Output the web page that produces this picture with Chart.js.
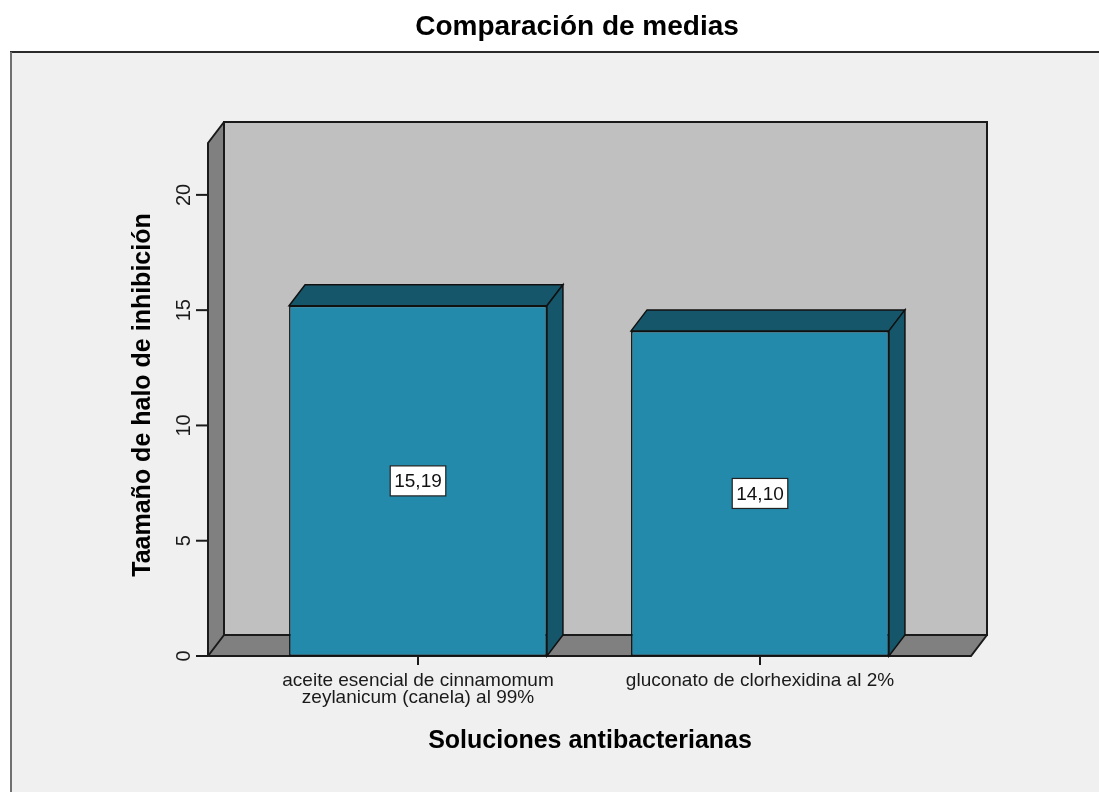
<!DOCTYPE html>
<html>
<head>
<meta charset="utf-8">
<title>Comparación de medias</title>
<script src="https://cdn.jsdelivr.net/npm/chart.js@4.4.1/dist/chart.umd.min.js"></script>
<style>
  html, body { margin: 0; padding: 0; background: #ffffff; }
  #idCanvas { width: 1099px; height: 792px; }
</style>
</head>
<body>
<div id="idCanvas"><canvas id="lienzo" width="1099" height="792"></canvas></div>
<script>
// Datos del gráfico
const categorias = [
  ['aceite esencial de cinnamomum', 'zeylanicum (canela) al 99%'],
  ['gluconato de clorhexidina al 2%']
];
const medias = [15.19, 14.10];
const ticksY = [0, 5, 10, 15, 20];
const maxY = 22.25;

const tituloGrafico = 'Comparación de medias';
const tituloEjeX = 'Soluciones antibacterianas';
const tituloEjeY = 'Taamaño de halo de inhibición';

const fuente = "Arial, 'Liberation Sans', sans-serif";

// Profundidad del efecto 3D (desplazamiento hacia atrás)
const prof = { x: 16, y: -21 };

// Caja 3D de fondo: paredes, suelo, marco y ejes
const fondo3d = {
  id: 'fondo3d',
  beforeDatasetsDraw(chart) {
    const c = chart.ctx;
    const a = chart.chartArea;
    const yS = chart.scales.y;
    const L = a.left - 39, R = a.right + 40;
    const T = yS.getPixelForValue(maxY), B = yS.getPixelForValue(0);

    c.save();
    // marco exterior
    c.fillStyle = '#f0f0f0';
    c.fillRect(10, 52, chart.width - 10, chart.height - 52);
    c.strokeStyle = '#2a2a2a';
    c.lineWidth = 2;
    c.beginPath(); c.moveTo(10, 52); c.lineTo(chart.width, 52); c.stroke();
    c.strokeStyle = '#707070';
    c.beginPath(); c.moveTo(11, 52); c.lineTo(11, chart.height); c.stroke();

    // pared del fondo
    c.fillStyle = '#c0c0c0';
    c.fillRect(L + prof.x, T + prof.y, R - L, B - T);
    // pared lateral y suelo
    c.fillStyle = '#808080';
    c.beginPath();
    c.moveTo(L, B); c.lineTo(L, T); c.lineTo(L + prof.x, T + prof.y); c.lineTo(L + prof.x, B + prof.y);
    c.closePath(); c.fill();
    c.beginPath();
    c.moveTo(L, B); c.lineTo(R, B); c.lineTo(R + prof.x, B + prof.y); c.lineTo(L + prof.x, B + prof.y);
    c.closePath(); c.fill();

    c.strokeStyle = '#1a1a1a';
    c.lineWidth = 2;
    c.beginPath();
    c.rect(L + prof.x, T + prof.y, R - L, B - T);
    c.moveTo(L, B); c.lineTo(L, T); c.lineTo(L + prof.x, T + prof.y);
    c.moveTo(L, B); c.lineTo(R, B); c.lineTo(R + prof.x, B + prof.y);
    c.moveTo(L, B); c.lineTo(L + prof.x, B + prof.y);
    c.stroke();

    // marcas y etiquetas del eje Y
    c.fillStyle = '#1a1a1a';
    c.font = '20px ' + fuente;
    c.textAlign = 'center';
    c.textBaseline = 'alphabetic';
    ticksY.forEach(v => {
      const y = yS.getPixelForValue(v);
      c.beginPath(); c.moveTo(L - 12, y); c.lineTo(L, y); c.stroke();
      c.save();
      c.translate(190, y);
      c.rotate(-Math.PI / 2);
      c.fillText(String(v), 0, 0);
      c.restore();
    });
    c.restore();
  },

  afterDatasetsDraw(chart) {
    const c = chart.ctx;
    const meta = chart.getDatasetMeta(0);
    const B = chart.scales.y.getPixelForValue(0);

    c.save();
    c.lineWidth = 1.5;
    c.strokeStyle = '#111111';
    c.fillStyle = '#16566a';
    meta.data.forEach(bar => {
      const x1 = bar.x - bar.width / 2, x2 = bar.x + bar.width / 2;
      const top = bar.y, base = bar.base;
      // cara superior
      c.beginPath();
      c.moveTo(x1, top); c.lineTo(x1 + prof.x, top + prof.y);
      c.lineTo(x2 + prof.x, top + prof.y); c.lineTo(x2, top);
      c.closePath(); c.fill(); c.stroke();
      // cara lateral
      c.beginPath();
      c.moveTo(x2, top); c.lineTo(x2 + prof.x, top + prof.y);
      c.lineTo(x2 + prof.x, base + prof.y); c.lineTo(x2, base);
      c.closePath(); c.fill(); c.stroke();
    });

    // etiquetas con el valor de la media
    c.font = '19px ' + fuente;
    c.textAlign = 'center';
    c.textBaseline = 'middle';
    meta.data.forEach((bar, i) => {
      const txt = medias[i].toFixed(2).replace('.', ',');
      const cy = (bar.y + bar.base) / 2;
      const w = c.measureText(txt).width + 8, h = 30;
      c.fillStyle = '#ffffff';
      c.fillRect(bar.x - w / 2, cy - h / 2, w, h);
      c.strokeStyle = '#222222';
      c.lineWidth = 1.2;
      c.strokeRect(bar.x - w / 2, cy - h / 2, w, h);
      c.fillStyle = '#111111';
      c.fillText(txt, bar.x, cy + 1);
    });

    // marcas y etiquetas del eje X
    c.strokeStyle = '#1a1a1a';
    c.lineWidth = 2;
    c.font = '19px ' + fuente;
    c.fillStyle = '#1a1a1a';
    categorias.forEach((lineas, i) => {
      const x = chart.scales.x.getPixelForValue(i);
      c.beginPath(); c.moveTo(x, B + 1); c.lineTo(x, B + 9); c.stroke();
      lineas.forEach((t, j) => c.fillText(t, x, 681 + j * 17));
    });

    // títulos
    c.fillStyle = '#000000';
    c.font = 'bold 28px ' + fuente;
    c.textBaseline = 'alphabetic';
    c.fillText(tituloGrafico, 577, 35);
    c.font = 'bold 25px ' + fuente;
    c.fillText(tituloEjeX, 590, 748);
    c.save();
    c.translate(150, 395);
    c.rotate(-Math.PI / 2);
    c.fillText(tituloEjeY, 0, 0);
    c.restore();
    c.restore();
  }
};

const ctx = document.getElementById('lienzo').getContext('2d');
const myChart = new Chart(ctx, {
  type: 'bar',
  data: {
    labels: categorias,
    datasets: [{
      label: tituloEjeY,
      data: medias,
      backgroundColor: '#248aab',
      borderColor: '#111111',
      borderWidth: 1.5,
      borderSkipped: false,
      barPercentage: 0.754,
      categoryPercentage: 1
    }]
  },
  options: {
    responsive: false,
    devicePixelRatio: 1,
    animation: false,
    layout: { padding: { left: 247, right: 168, top: 143, bottom: 136 } },
    plugins: { legend: { display: false }, tooltip: { enabled: false } },
    scales: {
      x: { display: false, offset: true },
      y: { display: false, min: 0, max: maxY }
    }
  },
  plugins: [fondo3d]
});
</script>
</body>
</html>
